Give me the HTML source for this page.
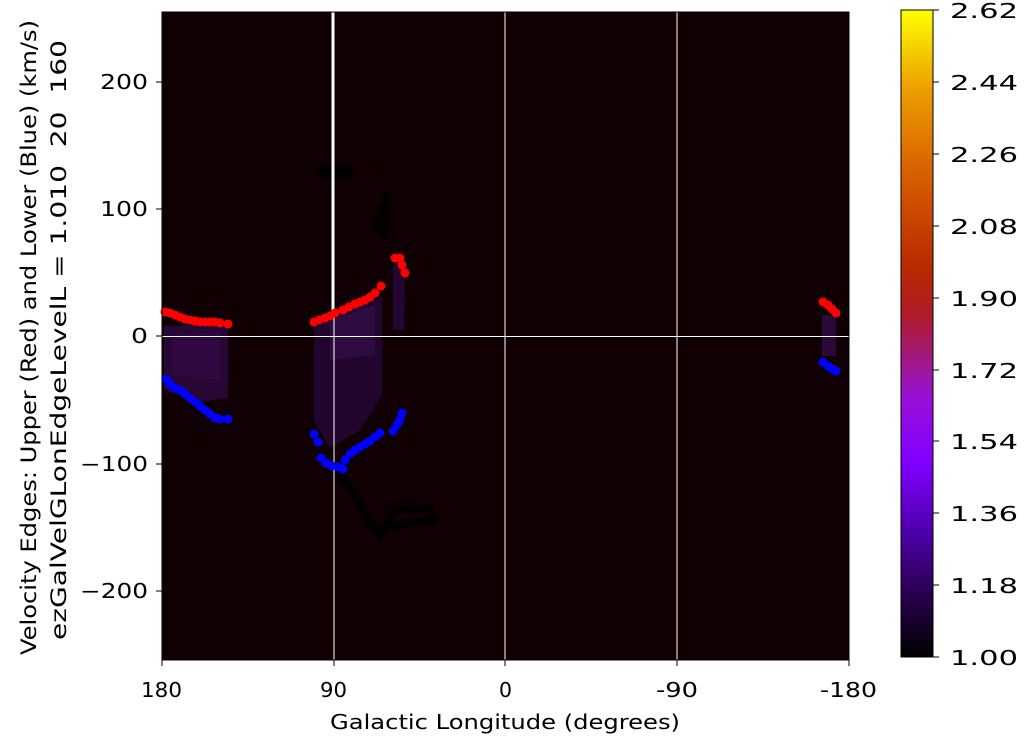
<!DOCTYPE html>
<html><head><meta charset="utf-8"><style>
body{margin:0;background:#fff;width:1024px;height:741px;overflow:hidden}
text{font-family:"DejaVu Sans","Liberation Sans",sans-serif;font-size:20px;fill:#000;white-space:pre}
</style></head><body>
<svg width="1024" height="741" xmlns="http://www.w3.org/2000/svg">
<defs>
<linearGradient id="cb" x1="0" y1="1" x2="0" y2="0">
<stop offset="0" stop-color="#000000"/>
<stop offset="0.1" stop-color="#2a0050"/>
<stop offset="0.2" stop-color="#5000b0"/>
<stop offset="0.3" stop-color="#8000ff"/>
<stop offset="0.4" stop-color="#9810d8"/>
<stop offset="0.45" stop-color="#a01890"/>
<stop offset="0.53" stop-color="#b01c28"/>
<stop offset="0.6" stop-color="#b82800"/>
<stop offset="0.75" stop-color="#d86000"/>
<stop offset="0.88" stop-color="#eca000"/>
<stop offset="1" stop-color="#ffff00"/>
</linearGradient>
</defs>
<rect x="162" y="12" width="687" height="648" fill="#100004"/>
<path d="M164,326 L228,324 L228,398 L200,402 L164,390 Z" fill="#2a0838" opacity="0.9"/>
<path d="M172,335 L220,332 L220,380 L172,375 Z" fill="#360a48" opacity="0.7"/>
<path d="M314,320 L382,296 L382,395 L360,430 L330,448 L314,420 Z" fill="#240632" opacity="0.9"/>
<path d="M330,320 L375,305 L375,355 L330,360 Z" fill="#34104a" opacity="0.7"/>
<path d="M393,265 L405,265 L404,330 L393,330 Z" fill="#240632"/>
<path d="M822,315 L836,315 L836,356 L822,356 Z" fill="#2a0838"/>
<ellipse cx="335" cy="172" rx="20" ry="7" fill="#000"/>
<path d="M372,230 L385,190 L392,195 L388,240 Z" fill="#000" opacity="0.8"/>
<path d="M338,470 L370,520 L380,535 L395,510 L430,508 L435,520 L400,525 L370,530" stroke="#000" stroke-width="7" fill="none"/>
<g stroke="#fff" stroke-width="1">
<line x1="505" y1="12" x2="505" y2="660"/><line x1="677" y1="12" x2="677" y2="660"/>
<line x1="334" y1="310" x2="334" y2="660"/>
<line x1="162" y1="336.5" x2="849" y2="336.5"/>
</g>
<line x1="333" y1="12" x2="333" y2="310" stroke="#fff" stroke-width="3"/>
<g fill="#ff0000">
<circle cx="165" cy="312" r="4.5"/><circle cx="170" cy="313" r="4.5"/><circle cx="175" cy="315" r="4.5"/><circle cx="180" cy="317" r="4.5"/><circle cx="185" cy="319" r="4.5"/><circle cx="190" cy="320" r="4.5"/><circle cx="195" cy="321" r="4.5"/><circle cx="200" cy="322" r="4.5"/><circle cx="205" cy="322" r="4.5"/><circle cx="210" cy="322" r="4.5"/><circle cx="215" cy="322" r="4.5"/><circle cx="220" cy="323" r="4.5"/><circle cx="228" cy="324" r="4.5"/>
<circle cx="314" cy="322" r="4.5"/><circle cx="319" cy="320" r="4.5"/><circle cx="325" cy="318" r="4.5"/><circle cx="330" cy="316" r="4.5"/><circle cx="335" cy="313" r="4.5"/>
<circle cx="343" cy="310" r="4.5"/><circle cx="349" cy="307" r="4.5"/><circle cx="355" cy="304" r="4.5"/><circle cx="360" cy="302" r="4.5"/><circle cx="365" cy="300" r="4.5"/><circle cx="370" cy="297" r="4.5"/><circle cx="375" cy="293" r="4.5"/><circle cx="381" cy="286" r="4.5"/>
<circle cx="395" cy="258" r="4.5"/><circle cx="400" cy="258" r="4.5"/><circle cx="402" cy="265" r="4.5"/><circle cx="405" cy="273" r="4.5"/>
<circle cx="823" cy="302" r="4.5"/><circle cx="828" cy="305" r="4.5"/><circle cx="832" cy="309" r="4.5"/><circle cx="836" cy="313" r="4.5"/>
</g>
<g fill="#0000ff">
<circle cx="166" cy="379" r="4.5"/><circle cx="170" cy="384" r="4.5"/><circle cx="175" cy="388" r="4.5"/><circle cx="180" cy="390" r="4.5"/><circle cx="185" cy="394" r="4.5"/><circle cx="190" cy="398" r="4.5"/><circle cx="195" cy="402" r="4.5"/><circle cx="200" cy="406" r="4.5"/><circle cx="205" cy="410" r="4.5"/><circle cx="210" cy="414" r="4.5"/><circle cx="215" cy="418" r="4.5"/><circle cx="220" cy="419" r="4.5"/><circle cx="228" cy="419" r="4.5"/>
<circle cx="314" cy="434" r="4.5"/><circle cx="318" cy="442" r="4.5"/>
<circle cx="321" cy="458" r="4.5"/><circle cx="326" cy="463" r="4.5"/><circle cx="332" cy="466" r="4.5"/><circle cx="338" cy="467" r="4.5"/><circle cx="343" cy="469" r="4.5"/>
<circle cx="345" cy="460" r="4.5"/><circle cx="350" cy="454" r="4.5"/><circle cx="355" cy="450" r="4.5"/><circle cx="360" cy="447" r="4.5"/><circle cx="365" cy="444" r="4.5"/><circle cx="370" cy="441" r="4.5"/><circle cx="375" cy="437" r="4.5"/><circle cx="380" cy="433" r="4.5"/>
<circle cx="393" cy="431" r="4.5"/><circle cx="397" cy="425" r="4.5"/><circle cx="400" cy="420" r="4.5"/><circle cx="402" cy="413" r="4.5"/>
<circle cx="823" cy="362" r="4.5"/><circle cx="828" cy="366" r="4.5"/><circle cx="832" cy="369" r="4.5"/><circle cx="836" cy="371" r="4.5"/>
</g>
<rect x="162" y="12" width="687" height="648" fill="none" stroke="#000" stroke-width="1"/>
<g stroke="#000" stroke-width="1">
<line x1="162" y1="660" x2="162" y2="666"/><line x1="334" y1="660" x2="334" y2="666"/><line x1="505" y1="660" x2="505" y2="666"/><line x1="677" y1="660" x2="677" y2="666"/><line x1="849" y1="660" x2="849" y2="666"/>
<line x1="156" y1="82" x2="162" y2="82"/><line x1="156" y1="209" x2="162" y2="209"/><line x1="156" y1="336" x2="162" y2="336"/><line x1="156" y1="464" x2="162" y2="464"/><line x1="156" y1="591" x2="162" y2="591"/>
</g>
<g lengthAdjust="spacingAndGlyphs">
<text x="141" y="697" textLength="41" lengthAdjust="spacingAndGlyphs">180</text>
<text x="320" y="697" textLength="27" lengthAdjust="spacingAndGlyphs">90</text>
<text x="499" y="697" textLength="13" lengthAdjust="spacingAndGlyphs">0</text>
<text x="656" y="697" textLength="42" lengthAdjust="spacingAndGlyphs">-90</text>
<text x="820" y="697" textLength="57" lengthAdjust="spacingAndGlyphs">-180</text>
<text x="330" y="729" textLength="350" lengthAdjust="spacingAndGlyphs">Galactic Longitude (degrees)</text>
<text x="100" y="89" textLength="48" lengthAdjust="spacingAndGlyphs">200</text>
<text x="100" y="216" textLength="48" lengthAdjust="spacingAndGlyphs">100</text>
<text x="131" y="343" textLength="17" lengthAdjust="spacingAndGlyphs">0</text>
<text x="80" y="471" textLength="68" lengthAdjust="spacingAndGlyphs">−100</text>
<text x="80" y="598" textLength="68" lengthAdjust="spacingAndGlyphs">−200</text>
</g>
<text transform="translate(36,655) rotate(-90)" textLength="635" lengthAdjust="spacingAndGlyphs" style="font-size:21px">Velocity Edges: Upper (Red) and Lower (Blue) (km/s)</text>
<text transform="translate(66,640) rotate(-90)" textLength="600" lengthAdjust="spacingAndGlyphs" style="font-size:21px">ezGalVelGLonEdgeLevelL = 1.010  20  160</text>
<rect x="901" y="10" width="32" height="647" fill="url(#cb)" stroke="#000" stroke-width="1"/>
<g stroke="#000"><line x1="933" y1="10" x2="939" y2="10"/><line x1="933" y1="82" x2="939" y2="82"/><line x1="933" y1="154" x2="939" y2="154"/><line x1="933" y1="226" x2="939" y2="226"/><line x1="933" y1="298" x2="939" y2="298"/><line x1="933" y1="370" x2="939" y2="370"/><line x1="933" y1="441" x2="939" y2="441"/><line x1="933" y1="513" x2="939" y2="513"/><line x1="933" y1="585" x2="939" y2="585"/><line x1="933" y1="657" x2="939" y2="657"/></g>
<g>
<text x="950" y="18" textLength="68" lengthAdjust="spacingAndGlyphs">2.62</text>
<text x="950" y="90" textLength="68" lengthAdjust="spacingAndGlyphs">2.44</text>
<text x="950" y="162" textLength="68" lengthAdjust="spacingAndGlyphs">2.26</text>
<text x="950" y="234" textLength="68" lengthAdjust="spacingAndGlyphs">2.08</text>
<text x="950" y="306" textLength="68" lengthAdjust="spacingAndGlyphs">1.90</text>
<text x="950" y="378" textLength="68" lengthAdjust="spacingAndGlyphs">1.72</text>
<text x="950" y="449" textLength="68" lengthAdjust="spacingAndGlyphs">1.54</text>
<text x="950" y="521" textLength="68" lengthAdjust="spacingAndGlyphs">1.36</text>
<text x="950" y="593" textLength="68" lengthAdjust="spacingAndGlyphs">1.18</text>
<text x="950" y="665" textLength="68" lengthAdjust="spacingAndGlyphs">1.00</text>
</g>
</svg>
</body></html>
